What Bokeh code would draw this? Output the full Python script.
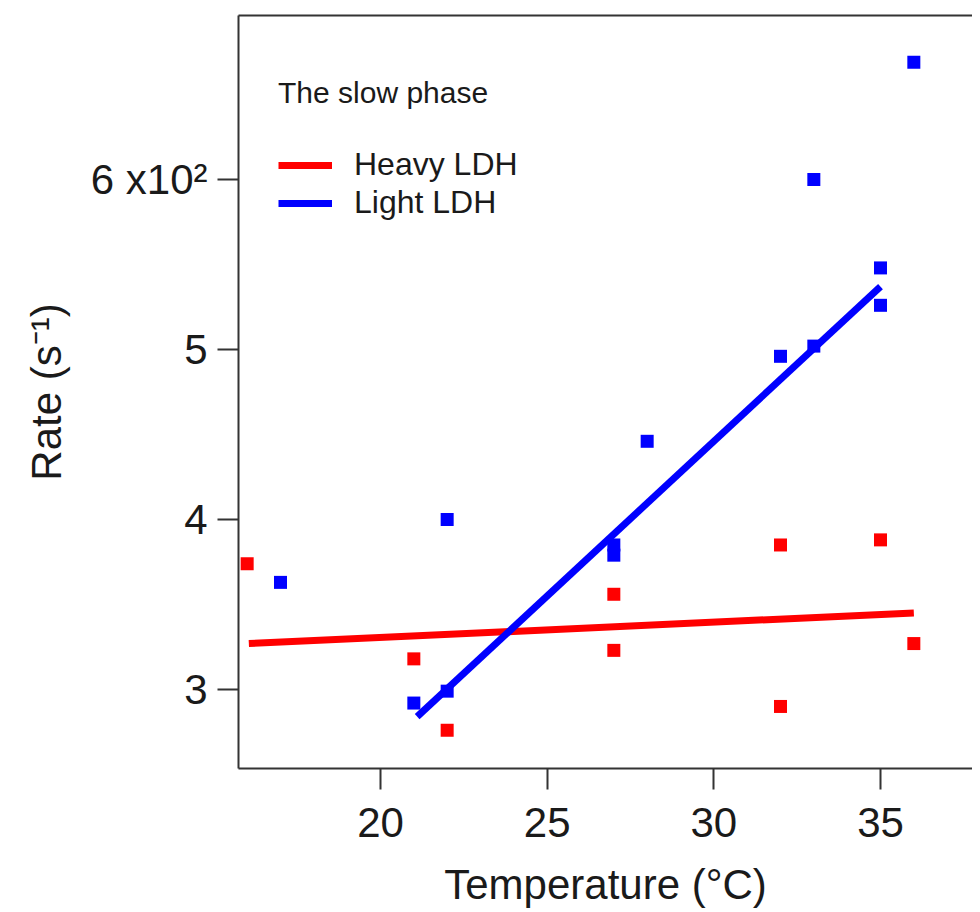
from bokeh.plotting import figure
from bokeh.models import Range1d, FixedTicker, LinearAxis, Legend, LegendItem
from bokeh.embed import file_html
from bokeh.resources import INLINE

# ---- data ----
heavy_temp = [16, 21, 22, 27, 27, 32, 32, 35, 36]
heavy_rate = [374, 318, 276, 356, 323, 385, 290, 388, 327]
light_temp = [17, 21, 22, 22, 27, 27, 28, 32, 33, 33, 35, 35, 36]
light_rate = [363, 292, 299, 400, 385, 379, 446, 496, 502, 600, 548, 526, 669]
heavy_fit_temp = [16.05, 36.0]
heavy_fit_rate = [327, 345]
light_fit_temp = [21.1, 35.0]
light_fit_rate = [284, 537]
x_ticks = [20, 25, 30, 35]
y_ticks = [300, 400, 500, 600]
y_tick_labels = ["3", "4", "5", "6 x10\u00b2"]

FONT = "Liberation Sans"
RED = "#ff0000"
BLUE = "#0000ff"
AX = "#333333"
TXT = "#1a1a1a"

p = figure(width=972, height=910, output_backend="svg", toolbar_location=None,
           x_range=Range1d(15.74, 37.76), y_range=Range1d(253.5, 696.5),
           min_border_left=238, min_border_right=0, min_border_top=15,
           min_border_bottom=142)
p.grid.visible = False
p.outline_line_color = None
p.background_fill_color = "white"

r_hf = p.line(heavy_fit_temp, heavy_fit_rate, line_color=RED, line_width=7)
r_lf = p.line(light_fit_temp, light_fit_rate, line_color=BLUE, line_width=7)
p.scatter(heavy_temp, heavy_rate, marker="square", size=13, fill_color=RED, line_color=None)
p.scatter(light_temp, light_rate, marker="square", size=13, fill_color=BLUE, line_color=None)

for ax in (p.xaxis[0], p.yaxis[0]):
    ax.axis_line_color = AX
    ax.axis_line_width = 2
    ax.major_tick_line_color = AX
    ax.major_tick_line_width = 2
    ax.major_tick_out = 21
    ax.major_tick_in = 0
    ax.minor_tick_line_color = None
    ax.major_label_text_font = FONT
    ax.major_label_text_font_size = "42px"
    ax.major_label_text_color = TXT
    ax.axis_label_text_font = FONT
    ax.axis_label_text_font_size = "42px"
    ax.axis_label_text_font_style = "normal"
    ax.axis_label_text_color = TXT

p.xaxis[0].ticker = FixedTicker(ticks=x_ticks)
p.xaxis[0].axis_label = "Temperature (\u00b0C)"
p.xaxis[0].major_label_standoff = 18
p.xaxis[0].axis_label_standoff = 21

p.yaxis[0].ticker = FixedTicker(ticks=y_ticks)
p.yaxis[0].major_label_overrides = {t: l for t, l in zip(y_ticks, y_tick_labels)}
p.yaxis[0].axis_label = "Rate (s\u207b\u00b9)"
p.yaxis[0].major_label_standoff = 10
p.yaxis[0].axis_label_standoff = 18

top = LinearAxis(ticker=FixedTicker(ticks=[]), axis_line_color=AX, axis_line_width=2,
                 major_tick_line_color=None, minor_tick_line_color=None,
                 major_label_text_font_size="0px", axis_label=None)
p.add_layout(top, "above")

legend = Legend(items=[LegendItem(label="Heavy LDH", renderers=[r_hf]),
                       LegendItem(label="Light LDH", renderers=[r_lf])],
                location=(40, 547), title="The slow phase",
                title_text_font=FONT, title_text_font_size="30px",
                title_text_font_style="normal", title_text_color=TXT,
                title_standoff=36,
                label_text_font=FONT, label_text_font_size="32px",
                label_text_color=TXT,
                glyph_width=54, glyph_height=36, label_height=36,
                label_standoff=22, spacing=1, padding=0, margin=0,
                border_line_color=None, background_fill_alpha=0)
p.add_layout(legend)

open("out.html", "w").write(file_html(p, INLINE))
